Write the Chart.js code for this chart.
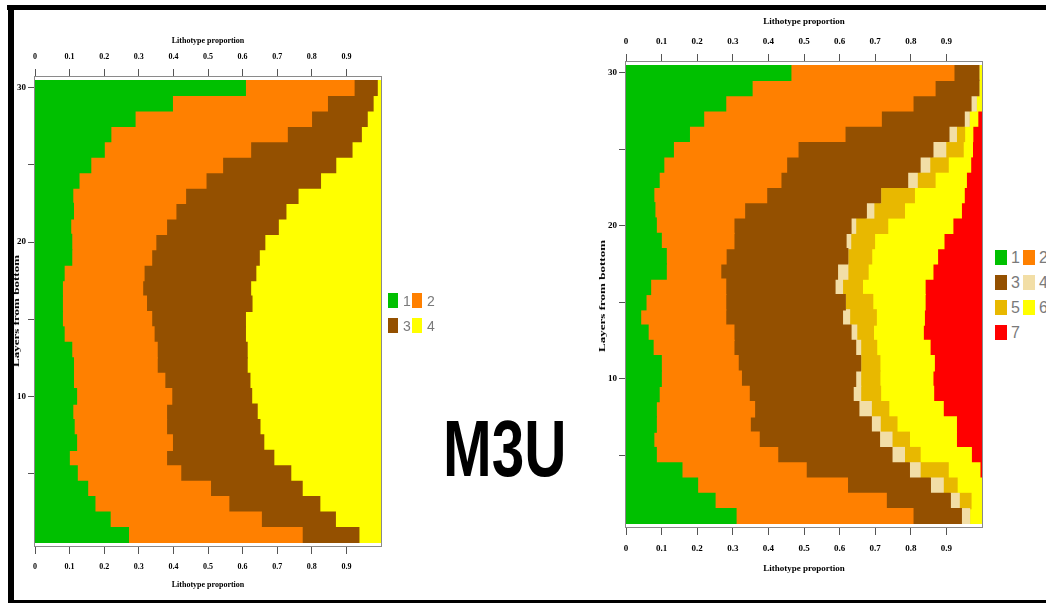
<!DOCTYPE html>
<html>
<head>
<meta charset="utf-8">
<script src="https://cdn.jsdelivr.net/npm/chart.js@4.4.1/dist/chart.umd.min.js"></script>
<style>
  body { margin: 0; background: #fff; }
  #page { position: relative; width: 1046px; height: 603px; overflow: hidden; background: #fff; }
  canvas { position: absolute; top: 0; }
  .bar { position: absolute; background: #000; }
  .ytitle { position: absolute; width: 0; height: 0; }
  .ytitle span {
    position: absolute; left: 0; top: 0; white-space: nowrap;
    font: bold 9px "Liberation Serif"; color: #000;
    transform: translate(-50%, -50%) rotate(-90deg) scaleX(1.45);
  }
  .legend { position: absolute; }
  .legend .sw { position: absolute; }
  .legend .tx { position: absolute; font-family: "Liberation Sans Narrow", "Liberation Sans"; color: #7a7a7a; line-height: 1; }
  #m3u {
    position: absolute; left: 443px; top: 403px; line-height: 1;
    font: bold 80px "Liberation Sans"; color: #000;
    transform: scaleX(0.73); transform-origin: left top;
  }
</style>
</head>
<body>
<div id="page">
  <canvas id="leftChart" width="390" height="603" style="left:0"></canvas>
  <canvas id="rightChart" width="400" height="603" style="left:590px"></canvas>

  <div class="ytitle" style="left:16px;top:311px"><span>Layers from bottom</span></div>
  <div class="ytitle" style="left:602px;top:296px"><span>Layers from bottom</span></div>

  <div id="leftLegend" class="legend"></div>
  <div id="rightLegend" class="legend"></div>

  <div id="m3u">M3U</div>

  <div class="bar" style="left:7px;top:5px;width:1039px;height:5px"></div>
  <div class="bar" style="left:8px;top:5px;width:6px;height:598px"></div>
  <div class="bar" style="left:8px;top:600px;width:1038px;height:3px"></div>
</div>

<script>
var $ = function (id) { return document.getElementById(id); };

// layers, top row first
var layers = ['30','29','28','27','26','25','24','23','22','21','20','19','18','17','16',
              '15','14','13','12','11','10','9','8','7','6','5','4','3','2','1'];
var layerLabels = ['30', '20', '10'];
var layerMinor = ['25', '15', '5'];
var propTicks = [0, 0.1, 0.2, 0.3, 0.4, 0.5, 0.6, 0.7, 0.8, 0.9];

// left model: 4 lithotypes, proportion per layer
var leftNames = ['1', '2', '3', '4'];
var left1 = [0.608,0.397,0.289,0.219,0.200,0.161,0.127,0.109,0.111,0.103,0.106,0.106,0.084,0.079,0.079,
             0.079,0.084,0.106,0.111,0.111,0.120,0.109,0.113,0.120,0.099,0.122,0.152,0.173,0.217,0.270];
var left2 = [0.314,0.448,0.510,0.510,0.423,0.381,0.367,0.326,0.296,0.277,0.243,0.231,0.231,0.232,0.243,
             0.258,0.260,0.247,0.242,0.264,0.275,0.271,0.267,0.277,0.281,0.299,0.355,0.387,0.437,0.502];
var left3 = [0.067,0.132,0.161,0.214,0.293,0.327,0.331,0.325,0.318,0.323,0.315,0.311,0.323,0.312,0.305,
             0.271,0.264,0.260,0.260,0.246,0.231,0.262,0.270,0.264,0.310,0.318,0.265,0.263,0.214,0.164];
var left4 = [0.011,0.023,0.040,0.057,0.084,0.131,0.175,0.240,0.275,0.297,0.336,0.352,0.362,0.377,0.373,
             0.392,0.392,0.387,0.387,0.379,0.374,0.358,0.350,0.339,0.310,0.261,0.228,0.177,0.132,0.064];

// right model: 7 lithotypes
var rightNames = ['1', '2', '3', '4', '5', '6', '7'];
var right1 = [0.463,0.354,0.280,0.218,0.178,0.133,0.106,0.093,0.078,0.081,0.085,0.099,0.113,0.113,0.069,
              0.056,0.041,0.062,0.076,0.099,0.099,0.093,0.085,0.085,0.078,0.085,0.157,0.201,0.250,0.309];
var right2 = [0.458,0.514,0.526,0.499,0.437,0.350,0.345,0.342,0.317,0.252,0.218,0.204,0.168,0.153,0.211,
              0.224,0.239,0.241,0.227,0.216,0.225,0.253,0.276,0.264,0.296,0.341,0.349,0.421,0.481,0.497];
var right3 = [0.070,0.123,0.163,0.233,0.292,0.379,0.375,0.356,0.320,0.342,0.329,0.315,0.342,0.328,0.307,
              0.336,0.328,0.329,0.342,0.344,0.321,0.292,0.293,0.340,0.338,0.321,0.290,0.233,0.180,0.136];
var right4 = [0,0,0.015,0.014,0.021,0.036,0.027,0.027,0,0.021,0.013,0.013,0,0.029,0.021,
              0,0.020,0.016,0.014,0,0.014,0.021,0.035,0.025,0.035,0.035,0.030,0.036,0.025,0.023];
var right5 = [0,0,0,0,0.023,0.049,0.052,0.050,0.095,0.086,0.090,0.067,0.067,0.057,0.056,
              0.077,0.075,0.047,0.045,0.054,0.054,0.056,0.049,0.047,0.049,0.044,0.079,0.039,0.033,0];
var right6 = [0.009,0.009,0.016,0.024,0.023,0.026,0.063,0.088,0.140,0.160,0.183,0.195,0.185,0.182,0.176,
              0.147,0.135,0.140,0.150,0.153,0.149,0.149,0.153,0.167,0.132,0.144,0.089,0.070,0.031,0.035];
var right7 = [0,0,0,0.012,0.026,0.027,0.032,0.044,0.050,0.058,0.082,0.107,0.125,0.138,0.160,
              0.160,0.162,0.165,0.146,0.134,0.138,0.136,0.109,0.072,0.072,0.030,0.006,0,0,0];

var leftColors = ['#00c000', '#ff8000', '#945000', '#ffff00'];
var rightColors = ['#00c000', '#ff8000', '#945000', '#f2dea6', '#e8b800', '#ffff00', '#ff0000'];

Chart.defaults.font.family = '"Liberation Serif"';
Chart.defaults.font.weight = 'bold';
Chart.defaults.color = '#000';

// box around the plot, sitting a few px outside it (white gap like the original)
var plotBox = {
  id: 'plotBox',
  afterDraw: function (chart) {
    var a = chart.chartArea, ctx = chart.ctx, g = 3;
    ctx.save();
    ctx.fillStyle = '#fff';
    ctx.fillRect(a.left, a.top - g, a.right - a.left + 1, g);
    ctx.fillRect(a.left, a.bottom, a.right - a.left + 1, g);
    ctx.strokeStyle = '#8a8a8a';
    ctx.lineWidth = 1;
    ctx.strokeRect(a.left - 0.5, a.top - g - 0.5, a.right - a.left + 1, a.bottom - a.top + 2 * g + 1);
    ctx.restore();
  }
};

const propLabel = v => {
  if (v > 0.95) return '';
  return v === 0 ? '0' : v.toFixed(1);
};

const propAxis = (pos, opt) => ({
  type: 'linear',
  position: pos,
  min: 0,
  max: 1,
  stacked: pos === 'bottom',
  afterBuildTicks: function (scale) {
    scale.ticks = propTicks.concat([1]).map(v => ({ value: v }));
  },
  afterFit: function (scale) { scale.height = opt.height; },
  border: { display: false },
  grid: {
    drawOnChartArea: false,
    tickLength: 11,
    tickColor: c => (c.tick && c.tick.value > 0.95) ? 'rgba(0,0,0,0)' : '#555'
  },
  ticks: {
    padding: opt.pad,
    maxRotation: 0,
    autoSkip: false,
    font: { size: opt.tick },
    callback: propLabel
  },
  title: {
    display: true,
    text: 'Lithotype proportion',
    font: { size: opt.title },
    padding: pos === 'top' ? { top: opt.tpad, bottom: 0 } : { top: 0, bottom: opt.tpad }
  }
});

const layerAxis = width => ({
  type: 'category',
  stacked: true,
  offset: true,
  afterFit: function (scale) { scale.width = width; },
  border: { display: false },
  grid: {
    offset: false,
    drawOnChartArea: false,
    tickLength: 7,
    tickColor: c => {
      var lab = layers[c.index];
      return (layerLabels.indexOf(lab) >= 0 || layerMinor.indexOf(lab) >= 0) ? '#555' : 'rgba(0,0,0,0)';
    }
  },
  ticks: {
    autoSkip: false,
    padding: 2,
    font: { size: 9 },
    callback: function (value) {
      var lab = this.getLabelForValue(value);
      return layerLabels.indexOf(lab) >= 0 ? lab : '';
    }
  }
});

function buildChart(id, names, series, colors, o) {
  var datasets = series.map((d, i) => ({
    label: names[i],
    data: d,
    backgroundColor: colors[i],
    borderWidth: 0,
    inflateAmount: 0.6,
    barPercentage: 1,
    categoryPercentage: 1
  }));
  return new Chart($(id), {
    type: 'bar',
    data: { labels: layers, datasets: datasets },
    options: {
      indexAxis: 'y',
      responsive: false,
      animation: false,
      layout: { padding: { left: 0, right: o.padRight, top: 0, bottom: 0 } },
      plugins: { legend: { display: false }, tooltip: { enabled: false } },
      scales: {
        x: propAxis('bottom', o.bottom),
        x2: propAxis('top', o.top),
        y: layerAxis(o.yWidth)
      }
    },
    plugins: [plotBox]
  });
}

function buildLegend(id, names, colors, o) {
  var box = $(id);
  box.style.left = o.left + 'px';
  box.style.top = o.top + 'px';
  names.forEach((n, i) => {
    var col = i % 2, row = Math.floor(i / 2);
    var sw = document.createElement('div');
    sw.className = 'sw';
    sw.style.left = (col * o.colGap) + 'px';
    sw.style.top = (row * o.rowGap) + 'px';
    sw.style.width = o.sw + 'px';
    sw.style.height = o.sh + 'px';
    sw.style.background = colors[i];
    box.appendChild(sw);
    var tx = document.createElement('div');
    tx.className = 'tx';
    tx.textContent = n;
    tx.style.left = (col * o.colGap + o.textX) + 'px';
    tx.style.top = (row * o.rowGap + o.textY) + 'px';
    tx.style.fontSize = o.font + 'px';
    box.appendChild(tx);
  });
}

window.onload = () => {
  buildChart('leftChart', leftNames, [left1, left2, left3, left4], leftColors, {
    padRight: 9,
    yWidth: 35,
    top: { height: 80, pad: 7, tick: 8, title: 8, tpad: 36 },
    bottom: { height: 60, pad: 8, tick: 8, title: 8, tpad: 13 }
  });
  buildChart('rightChart', rightNames, [right1, right2, right3, right4, right5, right6, right7], rightColors, {
    padRight: 4,
    yWidth: 36,
    top: { height: 65, pad: 7, tick: 9, title: 9, tpad: 16 },
    bottom: { height: 79, pad: 8, tick: 9, title: 9, tpad: 29 }
  });
  buildLegend('leftLegend', leftNames, leftColors, { left: 388, top: 293, colGap: 24, rowGap: 25, sw: 10, sh: 15, textX: 15, textY: 1, font: 14 });
  buildLegend('rightLegend', rightNames, rightColors, { left: 995, top: 250, colGap: 28, rowGap: 25, sw: 12, sh: 15, textX: 16, textY: 0, font: 16 });
};
</script>
</body>
</html>
